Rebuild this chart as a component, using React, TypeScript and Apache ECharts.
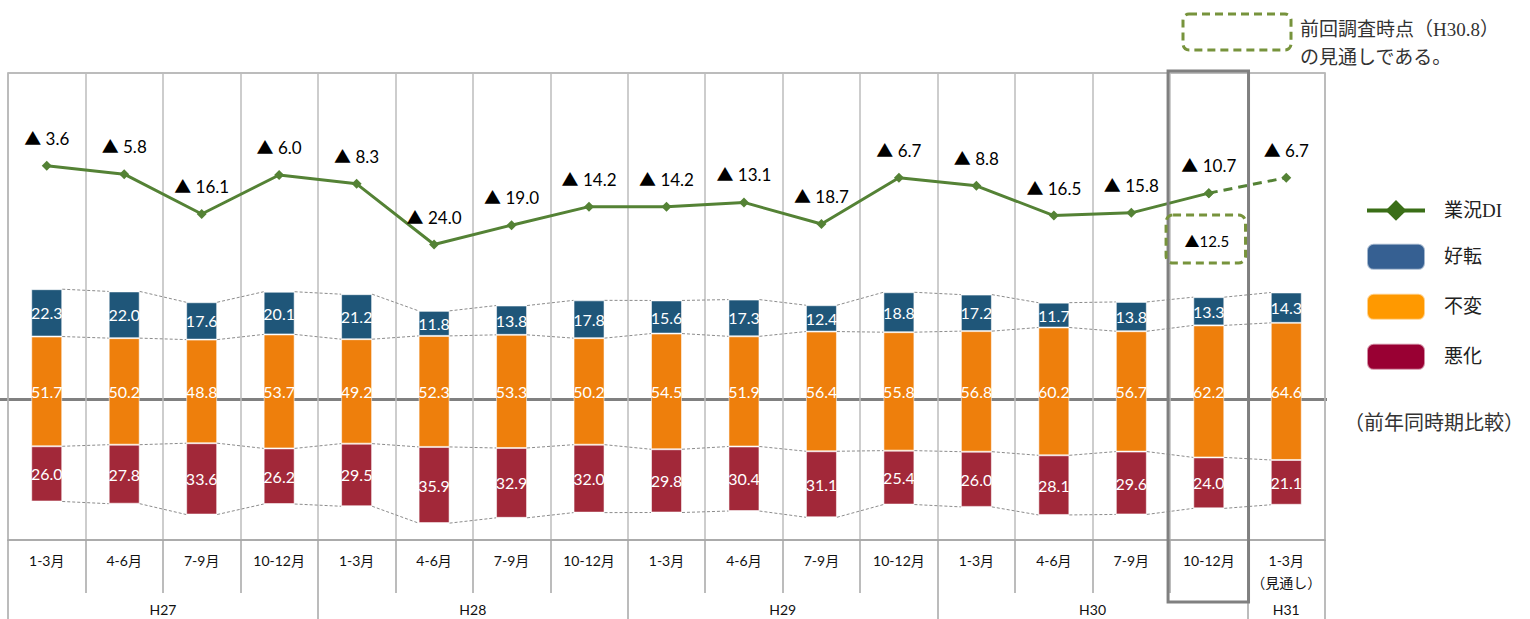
import React, { useEffect, useRef } from "react";
import * as echarts from "echarts";

// Quarter categories (the last one is the outlook)
const quarters = [
  "1-3月", "4-6月", "7-9月", "10-12月",
  "1-3月", "4-6月", "7-9月", "10-12月",
  "1-3月", "4-6月", "7-9月", "10-12月",
  "1-3月", "4-6月", "7-9月", "10-12月",
  "1-3月\n（見通し）",
];
const yearLabels = ["H27", "H28", "H29", "H30", "H31"];
const yearSpans = [4, 4, 4, 4, 1];

// Shares (%) of respondents
const improved = [22.3, 22.0, 17.6, 20.1, 21.2, 11.8, 13.8, 17.8, 15.6, 17.3, 12.4, 18.8, 17.2, 11.7, 13.8, 13.3, 14.3];
const unchanged = [51.7, 50.2, 48.8, 53.7, 49.2, 52.3, 53.3, 50.2, 54.5, 51.9, 56.4, 55.8, 56.8, 60.2, 56.7, 62.2, 64.6];
const worsened = [26.0, 27.8, 33.6, 26.2, 29.5, 35.9, 32.9, 32.0, 29.8, 30.4, 31.1, 25.4, 26.0, 28.1, 29.6, 24.0, 21.1];

// Business conditions DI (negative values shown with ▲)
const businessDI = [-3.6, -5.8, -16.1, -6.0, -8.3, -24.0, -19.0, -14.2, -14.2, -13.1, -18.7, -6.7, -8.8, -16.5, -15.8, -10.7, -6.7];
const outlookStart = 15; // the segment after this index is the outlook
const previousSurveyIndex = 15;
const previousSurveyDI = -12.5;

const SANS = 'Lato, "Noto Sans CJK JP", sans-serif';
const SERIF = '"Liberation Serif", "Noto Sans CJK JP", serif';

const BAR_CENTER = 100; // the "unchanged" block is centred on this level
const fmtDI = (v: number) => (v < 0 ? "▲ " + Math.abs(v).toFixed(1) : v.toFixed(1));

export default function App() {
  const ref = useRef<HTMLDivElement>(null);

  useEffect(() => {
    if (!ref.current) return;
    const chart = echarts.init(ref.current, undefined, { renderer: "svg" });

    const base = quarters.map((_, i) => BAR_CENTER - worsened[i] - unchanged[i] / 2);
    const levels = quarters.map((_, i) => {
      const b0 = base[i];
      const b1 = b0 + worsened[i];
      const b2 = b1 + unchanged[i];
      const b3 = b2 + improved[i];
      return [b0, b1, b2, b3];
    });
    const connectorData = levels.slice(0, -1).map((lv, i) => [i, ...lv, ...levels[i + 1]]);

    // year row: half-category slots so labels can sit on boundaries
    const halfSlots = quarters.length * 2 + 1;
    const yearTicks = new Set<number>();
    const yearLabelAt = new Map<number, string>();
    let start = 0;
    yearSpans.forEach((n, k) => {
      yearTicks.add(start * 2);
      yearLabelAt.set(start * 2 + n, yearLabels[k]);
      start += n;
    });
    yearTicks.add(start * 2);
    const yearAxisData = Array.from({ length: halfSlots }, (_, i) => "s" + i);

    const solidDI = businessDI.map((v, i) => (i <= outlookStart ? v : null));
    const dashedDI = businessDI.map((v, i) => (i >= outlookStart ? v : null));

    const barLabel = {
      show: true,
      position: "inside",
      color: "#fff",
      fontSize: 16,
      fontFamily: SANS,
      formatter: (p: any) => Number(p.value).toFixed(1),
    };
    const barBorder = { borderColor: "rgba(255,255,255,0.55)", borderWidth: 1 };

    const gray = "#a6a6a6";

    chart.setOption({
      animation: false,
      grid: {
        left: 8,
        right: 205,
        top: 73,
        bottom: 79,
        show: true,
        borderColor: gray,
        borderWidth: 1.5,
      },
      legend: {
        orient: "vertical",
        left: 1360,
        top: 195,
        itemWidth: 58,
        itemHeight: 26,
        itemGap: 22,
        selectedMode: false,
        textStyle: { fontSize: 19, fontFamily: SERIF, color: "#222", padding: [0, 0, 0, 14] },
        data: [
          { name: "業況DI", itemStyle: { color: "#3a6e17" }, lineStyle: { color: "#3a6e17", width: 4 } },
          { name: "好転", itemStyle: { color: "#366092" } },
          { name: "不変", itemStyle: { color: "#ff9900" } },
          { name: "悪化", itemStyle: { color: "#990033" } },
        ],
      },
      xAxis: [
        {
          type: "category",
          data: quarters,
          boundaryGap: true,
          axisLine: { show: true, onZero: false, lineStyle: { color: gray, width: 1.5 } },
          axisTick: { show: true, length: 53, interval: 0, lineStyle: { color: gray, width: 1.5 } },
          splitLine: { show: true, interval: 0, lineStyle: { color: "#bdbdbd", width: 1.5 } },
          axisLabel: {
            interval: 0,
            margin: 9,
            fontSize: 14,
            lineHeight: 22,
            color: "#111",
            fontFamily: SANS,
            verticalAlign: "top",
          },
        },
        {
          type: "category",
          data: yearAxisData,
          boundaryGap: false,
          position: "bottom",
          offset: 53,
          axisLine: { show: false, onZero: false },
          axisTick: {
            show: true,
            length: 26,
            interval: (idx: number) => yearTicks.has(idx),
            lineStyle: { color: gray, width: 1.5 },
          },
          splitLine: { show: false },
          axisLabel: {
            interval: (idx: number) => yearLabelAt.has(idx),
            formatter: (_: string, idx: number) => yearLabelAt.get(idx) ?? "",
            margin: 9,
            fontSize: 14,
            color: "#111",
            fontFamily: SANS,
          },
        },
      ],
      yAxis: [
        { type: "value", show: false, min: 30, max: 250 },
        { type: "value", show: false, min: -100.5, max: 20.4 },
      ],
      graphic: [
        {
          type: "line",
          z: 0,
          silent: true,
          shape: { x1: 0, y1: 399.5, x2: 1327, y2: 399.5 },
          style: { stroke: "#808080", lineWidth: 3 },
        },
        {
          type: "rect",
          shape: { x: 1183, y: 14, width: 108, height: 36, r: 6 },
          style: { fill: "none", stroke: "#77933c", lineWidth: 3, lineDash: [8, 5] },
        },
        {
          type: "text",
          x: 1300,
          y: 29,
          style: { text: "前回調査時点（H30.8）", fontSize: 19, fontFamily: SERIF, fill: "#333", verticalAlign: "middle" },
        },
        {
          type: "text",
          x: 1300,
          y: 57,
          style: { text: "の見通しである。", fontSize: 19, fontFamily: SERIF, fill: "#333", verticalAlign: "middle" },
        },
        {
          type: "text",
          x: 1344,
          y: 423,
          style: { text: "（前年同時期比較）", fontSize: 20, fontFamily: SERIF, fill: "#333", verticalAlign: "middle" },
        },
      ],
      series: [
        {
          name: "_base",
          type: "bar",
          stack: "share",
          barWidth: "40%",
          data: base,
          itemStyle: { color: "rgba(0,0,0,0)" },
          silent: true,
          label: { show: false },
        },
        {
          name: "悪化",
          type: "bar",
          stack: "share",
          barWidth: "40%",
          data: worsened,
          itemStyle: { color: "#a22839", ...barBorder },
          label: barLabel,
        },
        {
          name: "不変",
          type: "bar",
          stack: "share",
          barWidth: "40%",
          data: unchanged,
          itemStyle: { color: "#ee7f0c", ...barBorder },
          label: barLabel,
        },
        {
          name: "好転",
          type: "bar",
          stack: "share",
          barWidth: "40%",
          data: improved,
          itemStyle: { color: "#1f5679", ...barBorder },
          label: barLabel,
        },
        {
          // dashed series lines joining the segment edges of neighbouring bars
          name: "_connectors",
          type: "custom",
          silent: true,
          z: 1,
          encode: { x: 0, y: 1 },
          data: connectorData,
          renderItem: (_params: any, api: any) => {
            const i = api.value(0);
            const band = api.size([1, 0])[0];
            const half = band * 0.2;
            const xa = api.coord([i, BAR_CENTER])[0] + half;
            const xb = api.coord([i + 1, BAR_CENTER])[0] - half;
            const children: any[] = [];
            for (let k = 0; k < 4; k++) {
              const ya = api.coord([i, api.value(1 + k)])[1];
              const yb = api.coord([i + 1, api.value(5 + k)])[1];
              children.push({
                type: "line",
                shape: { x1: xa, y1: ya, x2: xb, y2: yb },
                style: { stroke: "#8c8c8c", lineWidth: 1, lineDash: [3, 2] },
              });
            }
            return { type: "group", children };
          },
        },
        {
          name: "業況DI",
          type: "line",
          yAxisIndex: 1,
          data: solidDI,
          symbol: "diamond",
          symbolSize: 10,
          z: 5,
          lineStyle: { color: "#548235", width: 3 },
          itemStyle: { color: "#548235" },
          label: {
            show: true,
            position: "top",
            distance: 14,
            fontSize: 17,
            color: "#000",
            fontFamily: SANS,
            formatter: (p: any) => fmtDI(p.value),
          },
        },
        {
          name: "業況DI",
          type: "line",
          yAxisIndex: 1,
          data: dashedDI,
          symbol: "diamond",
          symbolSize: 10,
          z: 5,
          lineStyle: { color: "#548235", width: 3, type: [9, 6] },
          itemStyle: { color: "#548235" },
          label: {
            show: true,
            position: "top",
            distance: 14,
            fontSize: 17,
            color: "#000",
            fontFamily: SANS,
            formatter: (p: any) => (p.dataIndex > outlookStart ? fmtDI(p.value) : ""),
          },
        },
        {
          // highlighted quarter and the previous survey's outlook value
          name: "_previousSurvey",
          type: "custom",
          clip: false,
          silent: true,
          z: 6,
          yAxisIndex: 1,
          encode: { x: 0, y: 1 },
          data: [[previousSurveyIndex, previousSurveyDI]],
          renderItem: (params: any, api: any) => {
            const cs = params.coordSys;
            const v = api.value(1);
            const [cx, cy] = api.coord([api.value(0), v]);
            const band = api.size([1, 0])[0];
            return {
              type: "group",
              children: [
                {
                  type: "rect",
                  shape: { x: cx - band / 2 - 2, y: cs.y - 2, width: band + 3, height: cs.height + 64 },
                  style: { fill: "none", stroke: "#808080", lineWidth: 3 },
                },
                {
                  type: "rect",
                  shape: { x: cx - band / 2 - 4, y: cy + 15, width: band + 2, height: 48, r: 7 },
                  style: { fill: "none", stroke: "#77933c", lineWidth: 3, lineDash: [8, 5] },
                },
                {
                  type: "text",
                  x: cx - 2,
                  y: cy + 41,
                  style: {
                    text: "▲" + Math.abs(v).toFixed(1),
                    fontSize: 15,
                    fontFamily: SANS,
                    fill: "#000",
                    align: "center",
                    verticalAlign: "middle",
                  },
                },
              ],
            };
          },
        },
      ],
    });

    return () => chart.dispose();
  }, []);

  return (
    <div
      ref={ref}
      style={{ position: "absolute", left: 0, top: 0, width: 1530, height: 619 }}
    />
  );
}
